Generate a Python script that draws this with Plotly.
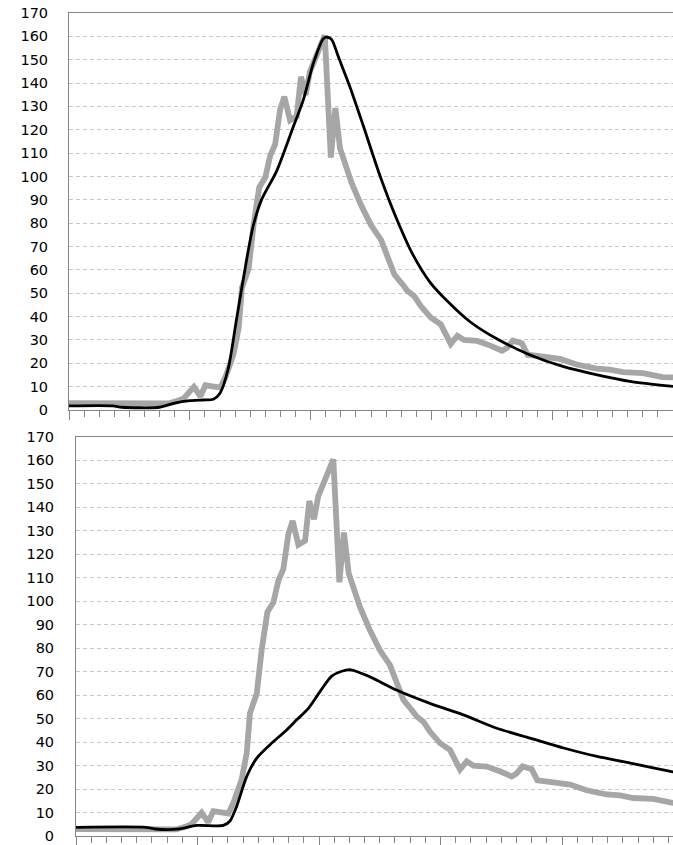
import plotly.graph_objects as go

# Observed series (gray), shared by both panels
obs_x = [0, 2.5, 4.6, 5.2, 6.2, 6.6, 7.3, 7.6, 8.27, 8.7, 9.04, 9.5, 10.03, 10.36, 10.9,
         11.24, 11.45, 11.9, 12.22, 12.6, 13.0, 13.32, 13.65, 13.98, 14.26, 14.64, 15.08,
         15.36, 15.67, 15.95, 16.39, 16.94, 17.34, 17.64, 17.95, 18.7, 19.35, 20.0, 20.67,
         21.1, 21.55, 22.1, 22.43, 22.87, 23.3, 23.96, 24.62, 25.28, 25.72, 26.16, 27.04,
         27.9, 28.68, 29.0, 29.4, 30.0, 30.37, 31.42, 32.52, 33.62, 34.94, 35.81, 36.69,
         38.0, 39.3, 40]
obs_y = [3, 3, 3, 2.6, 2.5, 2.8, 4.2, 5, 9.9, 5.9, 10.6, 10.2, 9.6, 14.1, 24,
         35.3, 52.3, 60.7, 79.1, 95.4, 99.6, 108.8, 113.7, 128.6, 134.2, 124.1, 125.8,
         142.7, 134.9, 144.8, 151.9, 160.4, 108.1, 129.3, 112, 97.5, 87.6, 79.2, 72.8,
         65, 58, 53.7, 50.9, 48.7, 44.5, 39.6, 36.7, 28.3, 31.8, 30, 29.6,
         27.6, 25.4, 26.6, 29.7, 28.5, 23.7, 22.9, 21.9, 19.5, 17.7, 17.3, 16.2,
         15.8, 14.1, 14.0]

# Model A (top panel, black)
modA_x = [0, 2.9, 3.5, 6.0, 7.0, 8.0, 8.9, 9.56, 10.0, 10.55, 11.1, 11.77, 12.2, 12.76,
          13.75, 14.86, 15.52, 16.18, 16.84, 17.1, 17.4, 17.84, 18.6, 19.5, 20.6, 21.7,
          22.8, 23.9, 25.0, 26.56, 28.3, 30.5, 32.7, 34.9, 37.15, 40]
modA_y = [1.8, 1.8, 1.2, 1.2, 3.0, 4.0, 4.3, 4.6, 7.2, 17.9, 39.1, 64.7, 78.9, 90.2,
          102.3, 121.4, 132.8, 148.4, 159, 159.6, 158.6, 151.2, 138.4, 121.5, 100.2, 81.8,
          66.2, 54.8, 47.0, 37.8, 30.6, 23.7, 18.7, 15.2, 12.3, 10.1]

# Model B (bottom panel, black)
modB_x = [0, 4.6, 5.2, 6.8, 7.94, 9.7, 10.14, 10.58, 11.24, 11.9, 12.77, 13.87, 14.53,
          15.3, 16.06, 16.83, 17.49, 18.1, 19.35, 21.1, 23.3, 25.5, 27.7, 29.9, 32.1,
          34.3, 36.5, 39.3, 40]
modB_y = [3.7, 3.7, 3.0, 3.0, 4.5, 4.5, 6.4, 12.7, 25.4, 33.2, 38.9, 45.2, 49.5,
          54.4, 61.5, 68.1, 70.2, 70.8, 67.8, 62.2, 56.5, 51.6, 45.9, 41.7, 37.5,
          33.9, 31.1, 27.3, 26.5]

y_ticks = list(range(0, 171, 10))

W, H = 673, 845
GRAY = "#A6A6A6"
AXC = "#868686"
GRID = "#C8C8C8"
FONT = dict(family="DejaVu Sans, Verdana, sans-serif", size=14.5, color="#000000")

fig = go.Figure()
fig.add_trace(go.Scatter(x=obs_x, y=obs_y, mode="lines", line=dict(color=GRAY, width=5.8),
                         xaxis="x", yaxis="y", showlegend=False))
fig.add_trace(go.Scatter(x=modA_x, y=modA_y, mode="lines",
                         line=dict(color="#000000", width=2.8, shape="spline", smoothing=0.7),
                         xaxis="x", yaxis="y", showlegend=False))
fig.add_trace(go.Scatter(x=obs_x, y=obs_y, mode="lines", line=dict(color=GRAY, width=5.8),
                         xaxis="x2", yaxis="y2", showlegend=False))
fig.add_trace(go.Scatter(x=modB_x, y=modB_y, mode="lines",
                         line=dict(color="#000000", width=2.8, shape="spline", smoothing=0.7),
                         xaxis="x2", yaxis="y2", showlegend=False))

top_dom = [1 - 412 / H, 1 - 13 / H]
bot_dom = [1 - 840 / H, 1 - 439 / H]
x1_dom = [69 / W, 1]
x2_dom = [76 / W, 1]
x1_range = [0, 40]
x2_range = [0, (673 - 76) / 15.19]


def xaxis_main(dom, rng, anchor):
    return dict(domain=dom, range=rng, anchor=anchor, showgrid=False, zeroline=False,
                showline=True, linecolor=AXC, linewidth=1, mirror=True,
                tickmode="linear", tick0=0, dtick=8, ticks="outside", ticklen=9,
                tickcolor=AXC, tickwidth=1, showticklabels=False,
                minor=dict(tickmode="linear", tick0=0, dtick=1, ticks="outside",
                           ticklen=6, tickcolor=AXC, tickwidth=1, showgrid=False),
                fixedrange=True)


def xaxis_overlay(dom, rng, anchor, over):
    return dict(domain=dom, range=rng, anchor=anchor, overlaying=over, showgrid=False,
                zeroline=False, showline=False, tickmode="linear", tick0=0, dtick=8,
                ticks="inside", ticklen=5, tickcolor=AXC, tickwidth=1,
                showticklabels=False, fixedrange=True)


def yaxis_labels(dom, anchor, label_gap):
    # labels placed with a long invisible tick, like the reference spacing
    return dict(domain=dom, range=[0, 170], anchor=anchor, tickmode="array",
                tickvals=y_ticks, ticktext=[str(v) for v in y_ticks],
                showgrid=True, gridcolor=GRID, gridwidth=1, griddash="4px,3px",
                zeroline=False, showline=True, linecolor=AXC, linewidth=1,
                ticks="outside", ticklen=label_gap, tickcolor="rgba(255,255,255,0)",
                tickwidth=1, tickfont=FONT, automargin=False, fixedrange=True)


def yaxis_ticks(dom, anchor, over):
    return dict(domain=dom, range=[0, 170], anchor=anchor, overlaying=over,
                tickmode="array", tickvals=y_ticks, showticklabels=False,
                showgrid=False, zeroline=False, showline=False,
                ticks="outside", ticklen=7, tickcolor=AXC, tickwidth=1,
                fixedrange=True)


fig.update_layout(
    width=W, height=H,
    margin=dict(l=0, r=0, t=0, b=0),
    paper_bgcolor="white", plot_bgcolor="white",
    showlegend=False,
    xaxis=xaxis_main(x1_dom, x1_range, "y"),
    yaxis=yaxis_labels(top_dom, "x", 17),
    xaxis2=xaxis_main(x2_dom, x2_range, "y2"),
    yaxis2=yaxis_labels(bot_dom, "x2", 18),
    xaxis3=xaxis_overlay(x1_dom, x1_range, "y", "x"),
    xaxis4=xaxis_overlay(x2_dom, x2_range, "y2", "x2"),
    yaxis3=yaxis_ticks(top_dom, "x", "y"),
    yaxis4=yaxis_ticks(bot_dom, "x2", "y2"),
)

fig.write_html(
    "out.html",
    config={"displayModeBar": False},
    post_script="document.body.style.margin='0';document.body.style.overflow='hidden';",
)
